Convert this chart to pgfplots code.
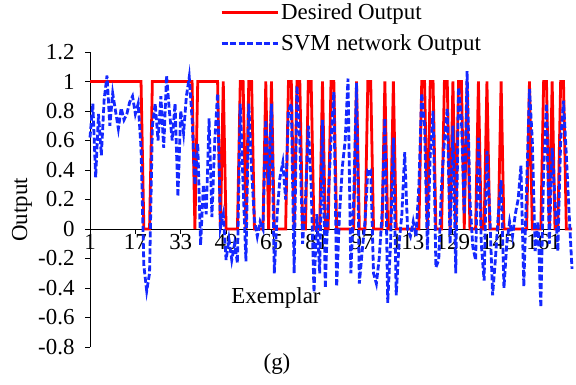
\documentclass[border=0pt]{standalone}
\usepackage{pgfplots}
\pgfplotsset{compat=1.18}
\usepackage{pgfplotstable}
\usepackage{fontspec}
\setmainfont{Liberation Serif}
\definecolor{dred}{RGB}{255,0,0}
\definecolor{sblue}{RGB}{20,40,255}
\newcommand{\chartfont}{\fontsize{23}{27}\selectfont}
\pgfplotstableread{
i d s
1 1 0.62
2 1 0.85
3 1 0.35
4 1 0.78
5 1 0.5
6 1 0.88
7 1 1.04
8 1 0.7
9 1 0.92
10 1 0.8
11 1 0.68
12 1 0.82
13 1 0.74
14 1 0.78
15 1 0.86
16 1 0.9
17 1 0.78
18 1 0.85
19 1 0.55
20 0 -0.25
21 0 -0.42
22 0 -0.3
23 1 0.7
24 1 0.85
25 1 0.6
26 1 0.9
27 1 0.55
28 1 1.04
29 1 0.8
30 1 0.6
31 1 0.85
32 1 0.22
33 1 0.8
34 1 0.65
35 1 0.9
36 1 1.03
37 1 0.75
38 0 0.3
39 1 0.58
40 1 -0.11
41 1 0.3
42 1 0.1
43 1 0.75
44 1 0.08
45 1 0.6
46 1 0.92
47 0 0.01
48 1 0.1
49 0 -0.21
50 0 -0.07
51 0 -0.21
52 0 -0.1
53 0 -0.23
54 1 0.85
55 1 0.3
56 0 -0.22
57 1 0.85
58 1 0.4
59 0 0.06
60 0 -0.05
61 0 0.05
62 0 0.0
63 1 0.74
64 0 0.3
65 1 0.85
66 0 -0.3
67 0 0.1
68 0 0.35
69 0 0.45
70 0 0.2
71 1 0.8
72 1 0.85
73 0 -0.3
74 1 0.97
75 1 0.6
76 0 -0.1
77 0 0.2
78 1 0.7
79 1 0.3
80 0 -0.43
81 0 0.1
82 0 -0.3
83 1 0.74
84 0 -0.4
85 0 0.2
86 1 0.6
87 1 0.93
88 0 -0.39
89 0 0.1
90 0 0.42
91 0 0.6
92 0 1.02
93 0 -0.3
94 0 0.2
95 1 0.99
96 0 -0.37
97 0 -0.15
98 0 0.05
99 1 0.4
100 1 0.4
101 0 -0.3
102 0 -0.37
103 0 -0.2
104 0 0.1
105 1 0.75
106 0 -0.5
107 0 -0.1
108 1 0.62
109 0 -0.45
110 0 -0.1
111 0 0.1
112 0 0.52
113 0 0.0
114 0 -0.05
115 0 0.05
116 0 -0.05
117 0 0.3
118 1 0.92
119 1 0.7
120 0 -0.14
121 1 0.5
122 1 0.8
123 0 -0.26
124 0 -0.21
125 0 0.3
126 1 0.6
127 1 0.82
128 0 -0.1
129 1 0.7
130 0 -0.3
131 1 0.96
132 1 0.75
133 0 0.1
134 1 1.07
135 0 0.2
136 0 -0.12
137 0 -0.21
138 1 0.62
139 0 -0.1
140 0 -0.35
141 1 0.53
142 0 0.1
143 0 -0.45
144 0 -0.2
145 0 0.1
146 1 0.33
147 0 -0.4
148 0 -0.1
149 0 0.05
150 0 -0.05
151 0 0.1
152 0 0.2
153 0 0.43
154 0 -0.39
155 0 0.3
156 1 0.95
157 0 0.6
158 0 -0.15
159 0 0.05
160 0 -0.53
161 1 0.4
162 1 0.85
163 0 -0.1
164 1 0.55
165 0 0.2
166 0 -0.15
167 1 0.6
168 1 0.87
169 0 0.5
170 0 0.1
171 0 -0.27
}\datatable
\begin{document}
\begin{tikzpicture}
\useasboundingbox (0,0) rectangle (576bp,385bp);
\begin{axis}[
  at={(90bp,38bp)}, anchor=south west,
  width=482bp, height=295bp, scale only axis,
  xmin=1, xmax=171, ymin=-0.8, ymax=1.2,
  axis x line=middle, axis y line=left,
  axis line style={-, black, line width=0.9pt},
  hide obscured x ticks=false, hide obscured y ticks=false,
  xtick={1,17,33,49,65,81,97,113,129,145,161},
  ytick={-0.8,-0.6,-0.4,-0.2,0,0.2,0.4,0.6,0.8,1,1.2},
  yticklabels={-0.8,-0.6,-0.4,-0.2,0,0.2,0.4,0.6,0.8,1,1.2},
  tick align=outside, major tick length=5bp,
  tick style={black, line width=0.9pt},
  /pgf/number format/assume math mode=true,
  ticklabel style={font=\chartfont},
  xticklabel style={yshift=3bp},
  yticklabel style={xshift=-7bp},
  clip=false,
  legend style={draw=none, fill=none, at={(rel axis cs:0.27,1.172)}, anchor=north west,
    font=\chartfont, row sep=10bp, inner sep=0pt},
  legend cell align=left,
  legend image code/.code={\draw[#1] (0bp,0bp) -- (56bp,0bp);},
]
\addplot[dred, line width=2.8bp] table[x=i, y=d] {\datatable};
\addlegendentry{Desired Output}
\addplot[sblue, line width=2.8bp, dash pattern=on 6bp off 2.5bp] table[x=i, y=s] {\datatable};
\addlegendentry{SVM network Output}
\end{axis}
\node[rotate=90, font=\chartfont] at (22bp,175bp) {Output};
\node[font=\chartfont] at (276bp,87bp) {Exemplar};
\node[font=\chartfont] at (277bp,21bp) {(g)};
\end{tikzpicture}
\end{document}
